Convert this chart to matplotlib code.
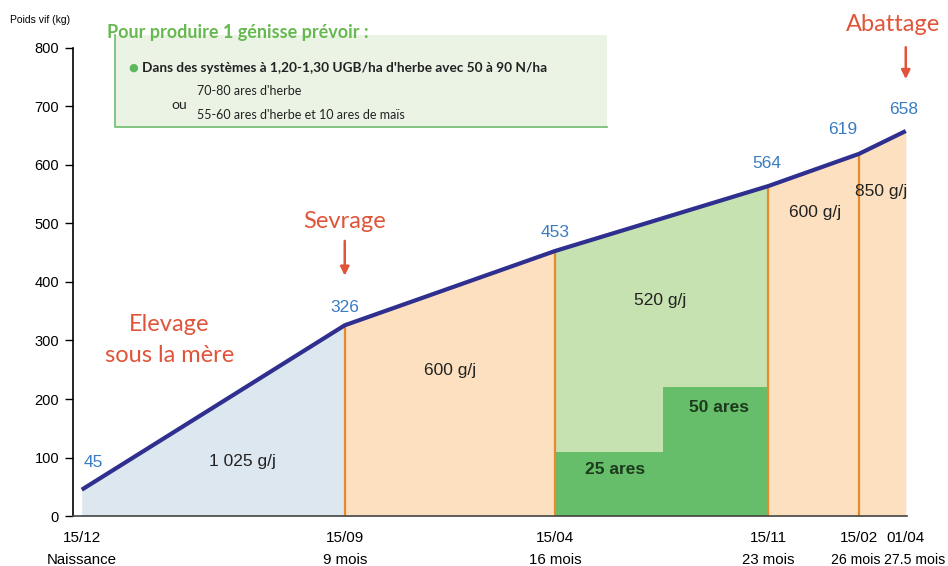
import numpy as np
import matplotlib
matplotlib.use("Agg")
import matplotlib.pyplot as plt
from matplotlib.patches import Rectangle
from matplotlib.lines import Line2D

# stages of the heifer (position on the time axis, months-ish)
x_pos = [0, 9, 16.2, 23.5, 26.6, 28.2]
dates = ["15/12", "15/09", "15/04", "15/11", "15/02", "01/04"]
ages = ["Naissance", "9 mois", "16 mois", "23 mois", "26 mois", "27.5 mois"]
weights = [45, 326, 453, 564, 619, 658]
gains = ["1 025 g/j", "600 g/j", "520 g/j", "600 g/j", "850 g/j"]
seg_colors = ["#dde7f0", "#fde0c0", "#c6e2b0", "#fde0c0", "#fde0c0"]

# pasture surfaces during the grazing season
ares_x = [16.2, 19.9, 23.5]
ares_h = [110, 220]
ares_labels = ["25 ares", "50 ares"]

orange = "#e8892c"
navy = "#2e2f8f"
blue_txt = "#3a7cc2"
red_txt = "#e0553a"
narrow = ["Liberation Sans", "DejaVu Sans"]

fig = plt.figure(figsize=(9.48, 5.66), dpi=100)
ax = fig.add_axes([0.077, 0.0883, 0.88, 0.827])

for i in range(len(x_pos) - 1):
    ax.fill_between(x_pos[i:i + 2], 0, weights[i:i + 2], color=seg_colors[i], lw=0)

ax.bar(ares_x[:-1], ares_h, width=np.diff(ares_x), align="edge", color="#66bd6a", lw=0)

for i in range(1, len(x_pos) - 1):
    ax.plot([x_pos[i], x_pos[i]], [0, weights[i]], color=orange, lw=1.6)

ax.plot(x_pos, weights, color=navy, lw=3, solid_capstyle="butt")

# value labels
val_off = [(0.38, 47), (0, 31), (0, 31), (-0.05, 39), (-0.57, 41), (-0.08, 36)]
for x, w, (dx, dy) in zip(x_pos, weights, val_off):
    ax.text(x + dx, w + dy, str(w), color=blue_txt, fontsize=12.5, ha="center",
            va="center", family=narrow)

# daily gain labels
gain_xy = [(5.5, 94), (12.6, 248), (19.8, 369), (25.1, 518), (27.35, 555)]
for (gx, gy), g in zip(gain_xy, gains):
    ax.text(gx, gy, g, fontsize=12.5, ha="center", va="center", family=narrow,
            color="#222222")

ares_xy = [(18.25, 80), (21.8, 186)]
for (ax_, ay), lab in zip(ares_xy, ares_labels):
    ax.text(ax_, ay, lab, fontsize=12.5, ha="center", va="center", family=narrow,
            fontweight="bold", color="#1c3a1c")

# handwritten style notes
hand = dict(color=red_txt, fontsize=17, ha="center", va="center", family="Lato")
ax.text(9, 503, "Sevrage", **hand)
ax.annotate("", xy=(9, 406), xytext=(9, 475),
            arrowprops=dict(arrowstyle="-|>", color=red_txt, lw=1.8, mutation_scale=13))
ax.text(3.0, 328, "Elevage", **hand)
ax.text(3.0, 274, "sous la mère", **hand)
ax.text(27.75, 840, "Abattage", clip_on=False, **hand)
ax.annotate("", xy=(28.2, 742), xytext=(28.2, 806),
            arrowprops=dict(arrowstyle="-|>", color=red_txt, lw=1.8, mutation_scale=13),
            annotation_clip=False)

ax.set_xlim(-0.3, 28.25)
ax.set_ylim(0, 800)
ax.set_yticks(range(0, 801, 100))
ax.set_xticks(x_pos)
ax.set_xticklabels(dates, family=narrow, fontsize=11)
ax.tick_params(axis="x", length=0, pad=11)

# ages below the dates, last one nudged right as in the original
age_dx = [0, 0, 0, 0, -0.1, 0.3]
age_fs = [10.8, 10.8, 10.8, 10.8, 10.2, 10.2]
for x, a, dx, fs in zip(x_pos, ages, age_dx, age_fs):
    ax.text(x + dx, -0.093, a, transform=ax.get_xaxis_transform(), ha="center",
            va="center", fontsize=fs, family=narrow, clip_on=False)

ax.tick_params(axis="y", length=6, width=1, labelsize=10.5, pad=4)
for t in ax.get_yticklabels():
    t.set_family(narrow)
for s in ["top", "right"]:
    ax.spines[s].set_visible(False)
ax.spines["left"].set_linewidth(1.2)
ax.spines["bottom"].set_linewidth(1.2)
ax.spines["bottom"].set_color("#444444")
ax.patch.set_alpha(0)

fig.text(0.011, 0.965, "Poids vif (kg)", fontsize=7.5, family=narrow, va="center")

# info box
box_l, box_b, box_w, box_h = 0.1213, 0.776, 0.519, 0.162
fig.patches.append(Rectangle((box_l, box_b), box_w, box_h, transform=fig.transFigure,
                             facecolor="#ebf4e4", edgecolor="none", zorder=0))
fig.lines.append(Line2D([box_l, box_l, box_l + box_w], [box_b + box_h, box_b, box_b],
                        transform=fig.transFigure, color="#78c07a", lw=1.3))
fig.text(0.113, 0.942, "Pour produire 1 génisse prévoir :", color="#66b94f",
         fontsize=13, fontweight="bold", family="Lato", va="center")
fig.text(0.135, 0.880, "●", color="#5cb85c", fontsize=8, va="center")
fig.text(0.150, 0.880, "Dans des systèmes à 1,20-1,30 UGB/ha d'herbe avec 50 à 90 N/ha",
         fontsize=9.8, fontweight="bold", family="Lato", va="center", color="#222222")
fig.text(0.181, 0.814, "ou", fontsize=10, family="Lato", va="center", color="#222222")
fig.text(0.208, 0.840, "70-80 ares d'herbe", fontsize=9, family="Lato", va="center",
         color="#222222")
fig.text(0.208, 0.796, "55-60 ares d'herbe et 10 ares de maïs", fontsize=9, family="Lato",
         va="center", color="#222222")

fig.savefig("out.png", dpi=100)
